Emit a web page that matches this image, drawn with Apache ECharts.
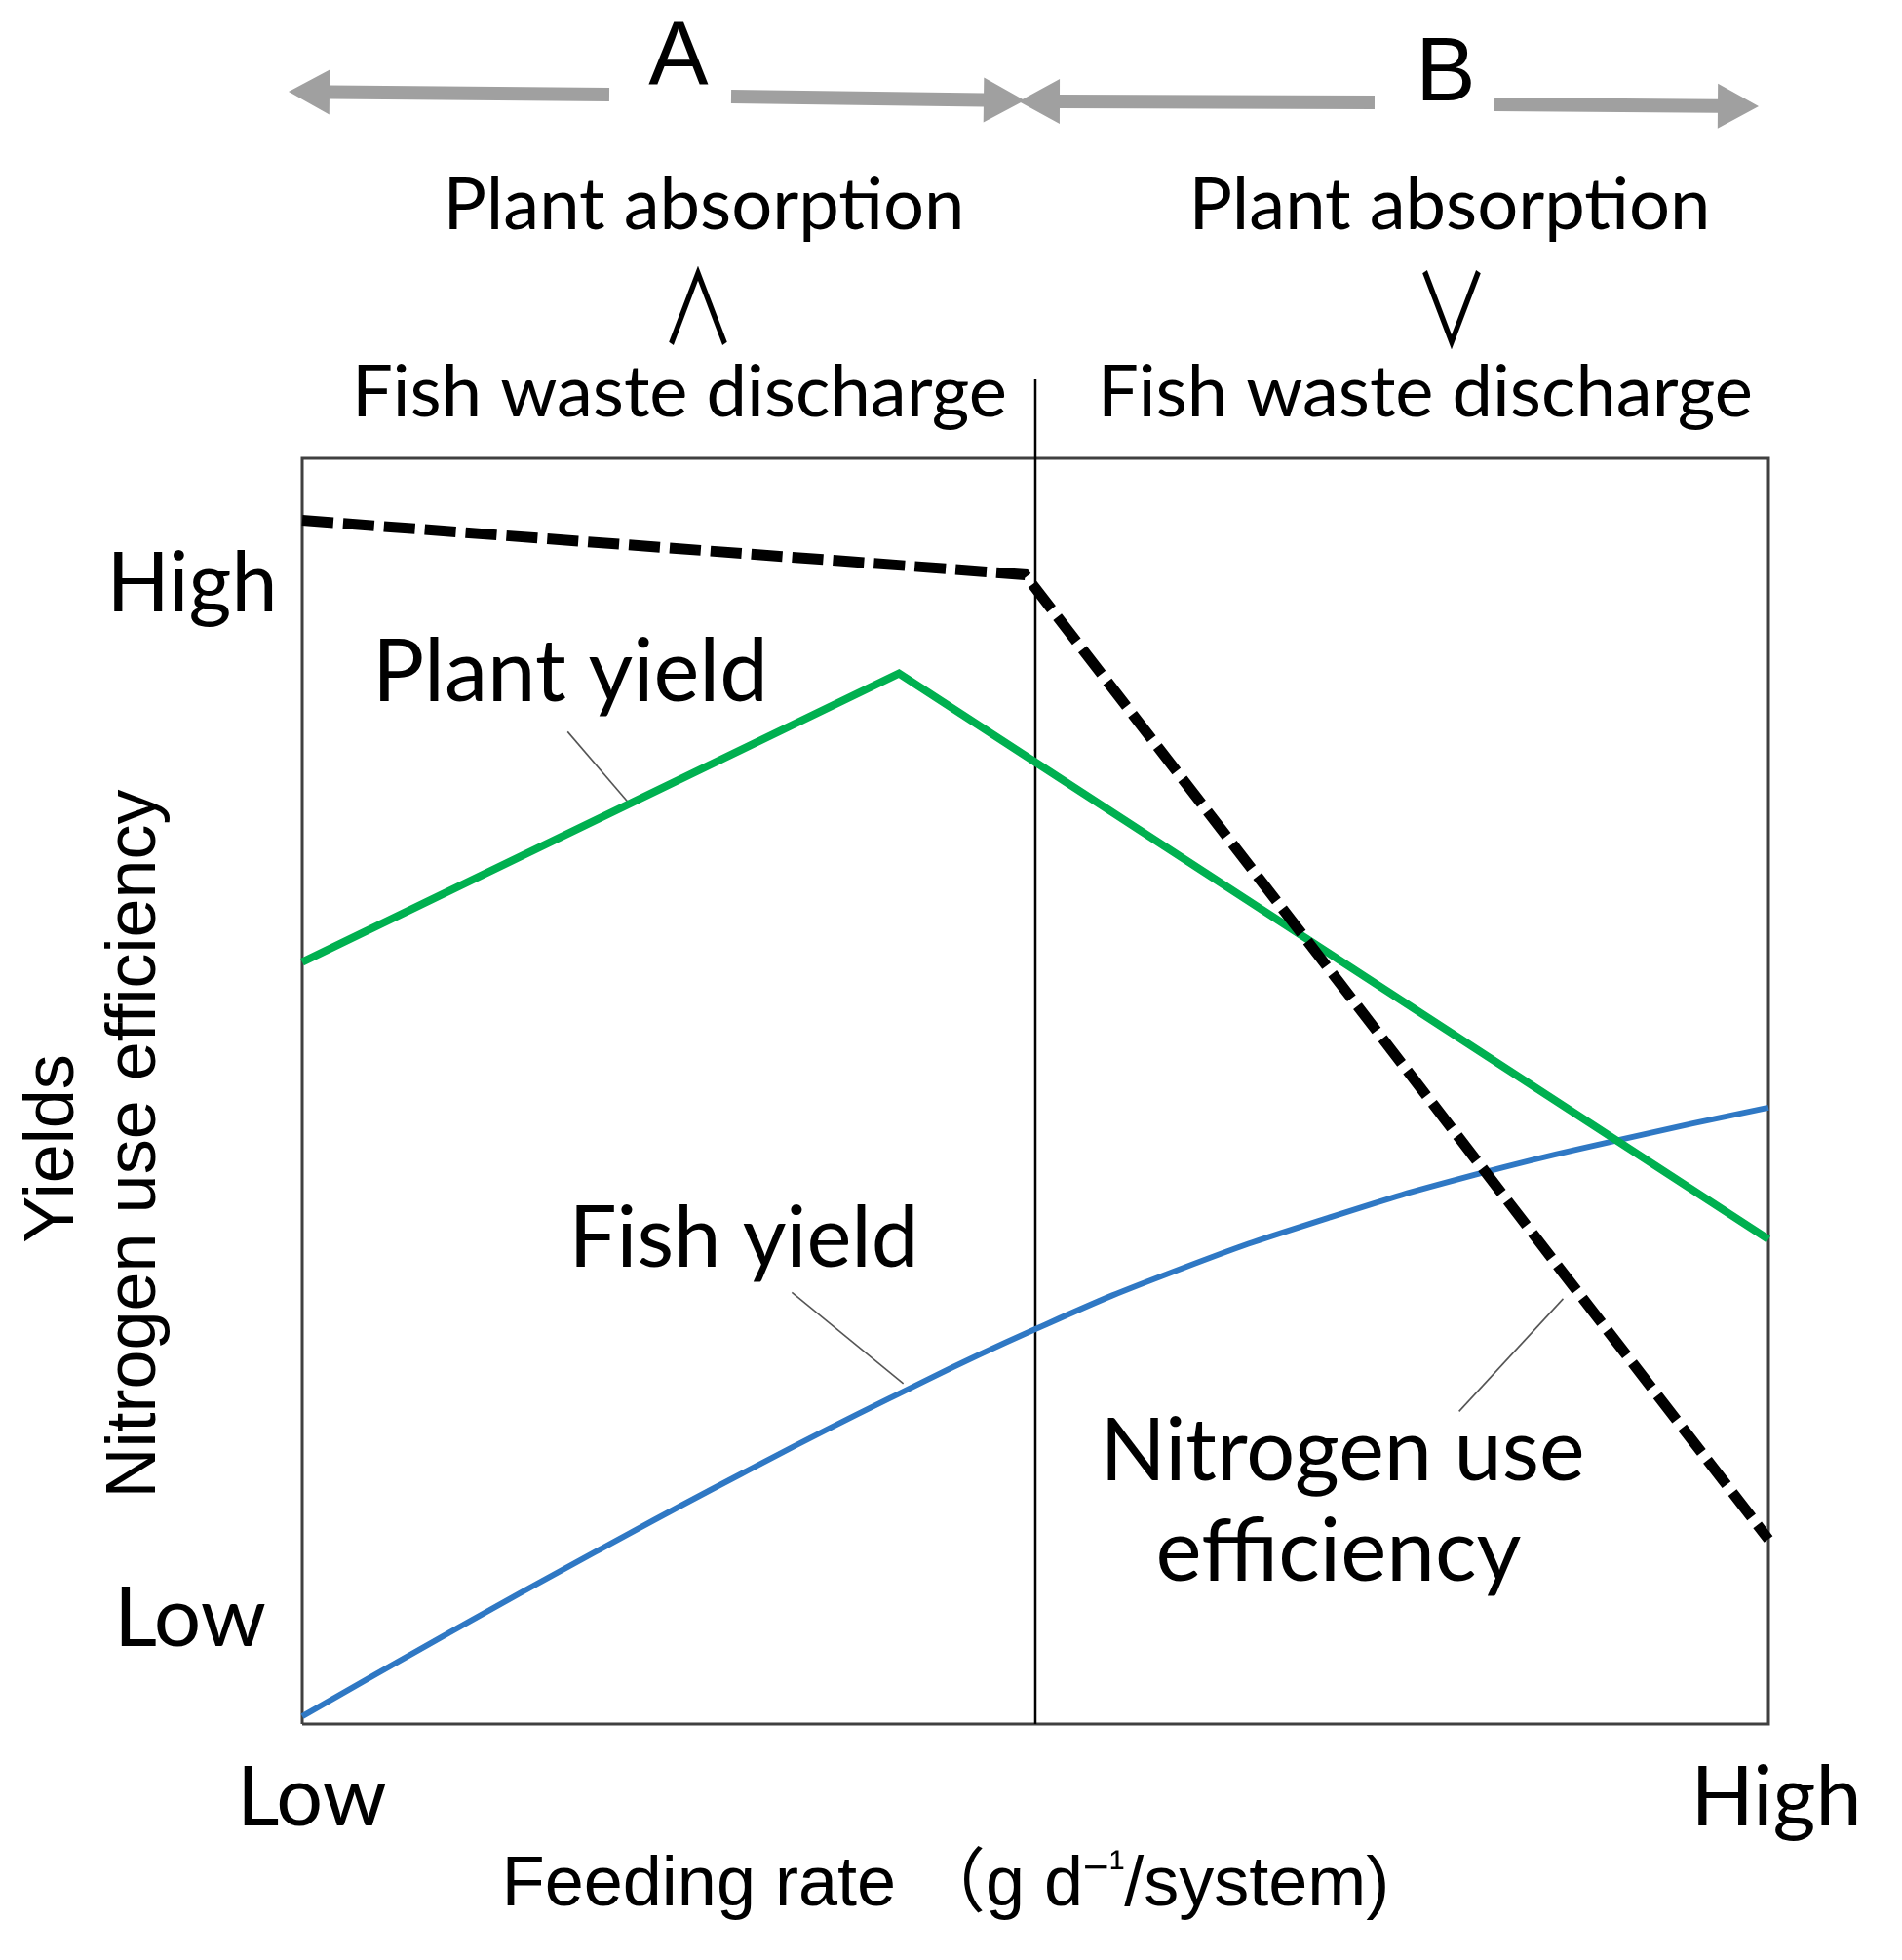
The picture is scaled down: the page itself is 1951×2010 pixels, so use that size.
<!DOCTYPE html>
<html><head><meta charset="utf-8">
<script src="https://cdn.jsdelivr.net/npm/echarts@6/dist/echarts.min.js"></script>
<style>html,body{margin:0;padding:0;background:#fff}#c{width:1951px;height:2010px}</style>
</head><body><div id="c"></div>
<script>
// ---------- data ----------
const fishX      = [0, 10, 20, 30, 40, 50, 60, 70, 80, 90, 100];
const fishYield  = [0.6, 7.2, 13.6, 19.8, 25.7, 31.2, 36.0, 40.0, 43.4, 46.2, 48.7];
const plantX     = [0, 40.7, 100];
const plantYield = [60.2, 83.0, 38.3];
const nueX       = [0, 49.3, 100];
const nueValues  = [95.1, 90.8, 14.6];
const boundaryX  = 50;
const plantLeader = [[18.1, 78.4], [22.4, 72.6]];
const fishLeader  = [[33.4, 34.1], [41.0, 26.9]];
const nueLeader   = [[86.0, 33.6], [78.9, 24.7]];
const xTickLabels = ['Low', 'High'];
const yTickLabels = ['Low', 'High'];
const regionNames = ['A', 'B'];
const curveNames  = ['Plant yield', 'Fish yield', 'Nitrogen use', 'efficiency'];
const regionText  = ['Plant absorption', 'Fish waste discharge'];
const relations   = ['\u2227', '\u2228'];
const yTitles     = ['Yields', 'Nitrogen use efficiency'];

// ---------- helpers ----------
const zip = (xs, ys) => xs.map((x, i) => [x, ys[i]]);
const CAL = 'Lato';
const ARIAL = '"Liberation Sans", Arial, "Noto Sans CJK JP"';
const THIN = '"Noto Sans CJK JP", "DejaVu Sans"';
const mctx = document.createElement('canvas').getContext('2d');
function fitSize(text, family, target) {
  mctx.font = '100px ' + family;
  return 100 * target / mctx.measureText(text).width;
}
function txt(text, x, y, family, size, rotation, scaleX) {
  const el = {
    type: 'text', x: x, y: y, silent: true,
    style: {
      text: text, font: size.toFixed(1) + 'px ' + family, fill: '#000',
      textAlign: 'center', textVerticalAlign: 'middle'
    }
  };
  if (rotation !== undefined) el.rotation = rotation;
  if (scaleX !== undefined) el.scaleX = scaleX;
  return el;
}
function fitTxt(text, x, y, width, family) {
  return txt(text, x, y, family || CAL, fitSize(text, family || CAL, width));
}
function arrow(x1, y1, x2, y2) {
  const w = 7, L = 42, H = 23;
  const dx = x2 - x1, dy = y2 - y1, len = Math.hypot(dx, dy);
  const ux = dx / len, uy = dy / len, nx = -uy, ny = ux;
  const bx = x2 - ux * L, by = y2 - uy * L;
  const pts = [
    [x1 + nx * w, y1 + ny * w], [bx + nx * w, by + ny * w], [bx + nx * H, by + ny * H],
    [x2, y2], [bx - nx * H, by - ny * H], [bx - nx * w, by - ny * w], [x1 - nx * w, y1 - ny * w]
  ];
  return { type: 'polygon', silent: true, shape: { points: pts }, style: { fill: '#a0a0a0' } };
}

const graphics = [
  arrow(625, 97, 296, 94), arrow(750, 99, 1051, 103),
  arrow(1410, 105, 1045, 104), arrow(1533, 107, 1804, 109),
  txt(regionNames[0], 696, 62, ARIAL, 92),
  txt(regionNames[1], 1483, 78, ARIAL, 92),
  fitTxt(regionText[0], 722, 211, 535),
  fitTxt(regionText[0], 1487, 211, 535),
  txt(relations[0], 716, 314, THIN, 104, undefined, 0.74),
  txt(relations[1], 1489, 317, THIN, 104, undefined, 0.74),
  fitTxt(regionText[1], 697, 403, 672),
  fitTxt(regionText[1], 1462, 403, 672),
  fitTxt(yTickLabels[1], 197, 600, 175),
  fitTxt(yTickLabels[0], 195, 1660, 156),
  fitTxt(xTickLabels[0], 320, 1845, 154),
  fitTxt(xTickLabels[1], 1822, 1845, 175),
  fitTxt(curveNames[0], 585, 690, 406),
  fitTxt(curveNames[1], 763, 1271, 359),
  fitTxt(curveNames[2], 1377, 1490, 497),
  fitTxt(curveNames[3], 1373, 1592, 375),
  txt(yTitles[1], 139, 1173, ARIAL, 72, Math.PI / 2),
  txt(yTitles[0], 55, 1178, ARIAL, 72, Math.PI / 2),
  {
    type: 'text', x: 970, y: 1934, silent: true,
    style: {
      text: '{a|Feeding rate \uFF08g d}{b|\u2212\u00b9}{a|/system)}',
      textAlign: 'center', textVerticalAlign: 'middle',
      rich: {
        a: { fontFamily: ARIAL, fontSize: 72, lineHeight: 80, fill: '#000' },
        b: { fontFamily: ARIAL, fontSize: 46, lineHeight: 80, fill: '#000', verticalAlign: 'top' }
      }
    }
  }
];

function lineSeries(data, color, width, extra) {
  return Object.assign({
    type: 'line', data: data, symbol: 'none', silent: true, clip: false, animation: false,
    lineStyle: { color: color, width: width, cap: 'butt', join: 'miter' }
  }, extra || {});
}

const chart = echarts.init(document.getElementById('c'), null, { renderer: 'canvas' });
chart.setOption({
  backgroundColor: '#fff',
  animation: false,
  grid: { left: 310, right: 137, top: 389, bottom: 242 },
  xAxis: { type: 'value', min: 0, max: 100, show: false },
  yAxis: { type: 'value', min: 0, max: 106.24, show: false },
  graphic: { elements: graphics },
  series: [
    lineSeries([[0, 0], [100, 0], [100, 100], [0, 100], [0, 0]], '#404040', 3),
    lineSeries([[boundaryX, 0], [boundaryX, 106.24]], '#000', 2.5),
    lineSeries(plantLeader, '#555', 1.6),
    lineSeries(fishLeader, '#555', 1.6),
    lineSeries(nueLeader, '#555', 1.6),
    lineSeries(zip(fishX, fishYield), '#2F78C4', 6, { smooth: true }),
    lineSeries(zip(plantX, plantYield), '#00B050', 8),
    lineSeries(zip(nueX, nueValues), '#000', 11, { lineStyle: { color: '#000', width: 11, type: [32, 10], cap: 'butt', join: 'miter' } })
  ]
});
</script></body></html>
